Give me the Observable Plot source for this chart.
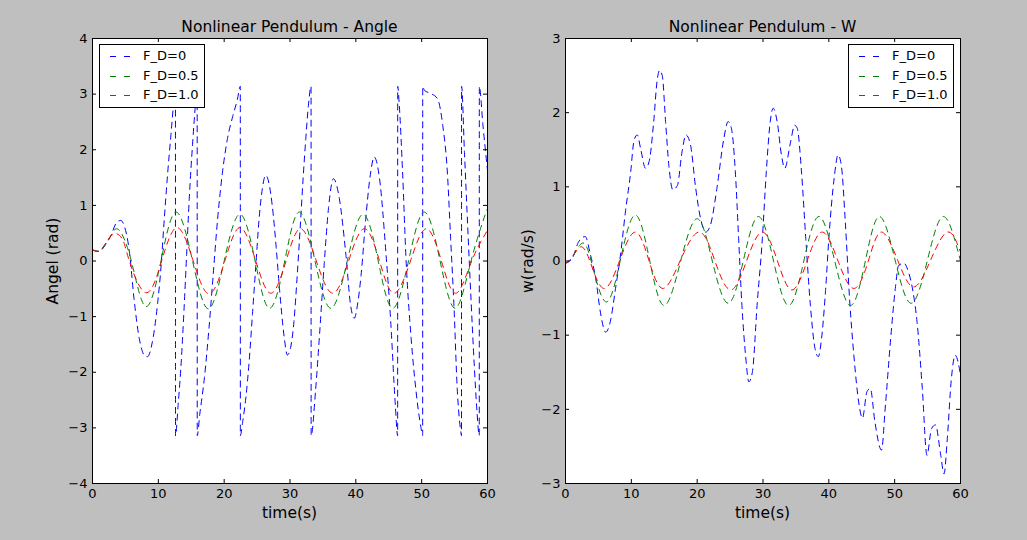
<!DOCTYPE html>
<html><head><meta charset="utf-8">
<script src="https://cdn.jsdelivr.net/npm/d3@7"></script>
<script src="https://cdn.jsdelivr.net/npm/@observablehq/plot@0.6"></script>
<style>
html,body{margin:0;padding:0;background:#bfbfbf;}
#fig{position:relative;width:1027px;height:540px;background:#bfbfbf;overflow:hidden;font-family:"DejaVu Sans",sans-serif;color:#000;}
.panel{position:absolute;top:0;}
.title{position:absolute;font-size:15.5px;line-height:18px;white-space:nowrap;transform:translateX(-50%);}
.xlabel{position:absolute;font-size:15.5px;line-height:18px;white-space:nowrap;transform:translateX(-50%);}
.ylabel{position:absolute;font-size:15.5px;line-height:18px;white-space:nowrap;transform:translate(-50%,-50%) rotate(-90deg);}
.legend{position:absolute;background:#fff;border:1px solid #000;box-sizing:border-box;width:106px;height:64px;}
.legend .row{position:absolute;left:0;height:18px;width:100%;}
.legend svg{position:absolute;left:9px;top:0;}
.legend span{position:absolute;left:43px;top:0;font-size:13px;line-height:18px;white-space:nowrap;}
</style>
</head><body>
<div id="fig"></div>
<script>
// ---------- data ----------
const xTicks = [0, 10, 20, 30, 40, 50, 60];
const angleTicks = [-4, -3, -2, -1, 0, 1, 2, 3, 4];
const wTicks = [-3, -2, -1, 0, 1, 2, 3];
const seriesNames = ["F_D=0", "F_D=0.5", "F_D=1.0"];
const seriesColors = ["#0000ff", "#008000", "#ff0000"];

// Angle, F_D=0 (wrapped to [-pi, pi])
const tAngle0 = [0,1.0,2.0,2.8,3.6,4.3,4.8,5.6,6.3,7.1,7.85,8.35,9.1,9.9,10.33,10.9,11.4,11.9,12.3,12.6,12.61,13.0,13.4,13.9,14.3,14.7,15.2,15.7,15.9,15.91,16.3,17.0,17.7,18.3,19.0,19.75,20.5,21.3,22.0,22.45,22.46,22.8,23.3,23.8,24.3,24.8,25.3,25.8,26.3,26.8,27.3,27.9,28.4,29.1,29.6,30.1,30.6,31.1,31.6,32.0,32.4,32.8,33.2,33.21,33.9,34.5,35.2,35.85,36.6,37.5,38.5,39.2,39.75,40.3,40.8,41.5,42.2,42.8,43.6,44.6,45.3,46.0,46.35,46.36,46.6,47.1,47.6,48.4,49.1,49.9,50.15,50.16,50.4,51.4,52.4,53.2,53.9,54.4,54.9,55.4,55.95,56.05,56.06,56.5,57.0,57.5,58.0,58.4,58.75,58.76,59.3,60.0];
const angle0 = [0.20,0.17,0.30,0.46,0.68,0.73,0.64,0.17,-0.67,-1.39,-1.69,-1.72,-1.45,-0.75,-0.22,0.75,1.55,2.25,2.80,3.14,-3.14,-2.60,-1.96,-0.88,0.12,1.13,2.10,2.90,3.14,-3.14,-2.75,-2.10,-1.20,-0.30,0.75,1.60,2.20,2.60,2.90,3.14,-3.14,-2.90,-2.45,-1.80,-0.95,-0.10,0.75,1.30,1.54,1.40,1.00,0.25,-0.49,-1.35,-1.69,-1.55,-1.09,-0.25,0.70,1.50,2.20,2.80,3.14,-3.14,-2.30,-1.30,-0.05,0.95,1.48,1.12,0.10,-0.79,-1.03,-0.75,-0.25,0.75,1.55,1.87,1.48,0.10,-1.09,-2.59,-3.14,3.14,2.80,1.60,0.10,-1.39,-2.29,-3.00,-3.14,3.14,3.07,3.01,2.92,2.44,1.60,0.40,-0.79,-2.29,-3.07,-3.14,3.14,1.95,0.60,-0.70,-1.90,-2.70,-3.14,3.14,2.45,1.63];

// Angle, F_D=0.5
const tAngle05 = [0,1.0,2.0,2.9,4.0,5.9,8.1,10.4,12.7,15.2,17.6,20.0,22.4,24.7,26.9,29.2,31.4,33.8,36.2,38.7,41.1,43.4,45.6,48.0,50.4,52.8,55.1,57.5,59.8,60];
const angle05 = [0.20,0.18,0.30,0.48,0.56,0.0,-0.82,0.0,0.88,0.0,-0.86,0.0,0.84,0.0,-0.85,0.0,0.88,0.0,-0.85,0.0,0.84,0.0,-0.85,0.0,0.88,0.0,-0.85,0.0,0.88,0.87];

// Angle, F_D=1.0
const tAngle10 = [0,1.0,2.0,3.3,4.6,5.6,8.1,10.5,12.85,15.3,17.7,20.1,22.4,24.8,27.1,29.4,31.6,34.0,36.5,38.9,41.3,43.6,45.8,48.3,50.7,53.0,55.2,57.6,60];
const angle10 = [0.20,0.18,0.32,0.49,0.38,0.0,-0.57,0.0,0.60,0.0,-0.59,0.0,0.60,0.0,-0.58,0.0,0.58,0.0,-0.58,0.0,0.58,0.0,-0.58,0.0,0.58,0.0,-0.58,0.0,0.55];

// W, F_D=0
const tW0 = [0,1.0,2.0,3.0,3.8,4.6,5.3,6.1,6.8,7.6,8.35,9.1,9.9,10.4,10.9,11.4,12.15,12.7,13.4,13.9,14.3,14.7,15.2,15.7,16.3,17.0,17.7,18.3,19.0,19.75,20.5,21.3,22.0,23.0,24.05,24.7,25.2,25.8,26.3,26.8,27.35,27.85,28.4,29.1,29.9,30.5,31.1,31.55,32.15,32.8,33.3,34.2,34.8,35.2,35.85,36.5,37.2,37.9,38.4,38.9,39.5,40.0,40.8,41.4,41.9,42.5,43.15,43.8,44.6,45.1,45.8,46.3,47.0,48.0,48.6,49.4,50.1,50.6,51.4,52.1,52.8,53.4,54.2,54.9,55.6,56.2,57.0,57.5,58.0,58.6,59.2,59.6,60];
const w0 = [-0.03,0.03,0.26,0.33,0.08,-0.24,-0.69,-0.96,-0.82,-0.37,0.08,0.66,1.20,1.62,1.70,1.52,1.25,1.34,1.88,2.42,2.57,2.50,1.88,1.29,0.96,1.02,1.47,1.70,1.56,1.00,0.58,0.39,0.48,0.98,1.65,1.88,1.79,1.20,0.30,-0.60,-1.27,-1.63,-1.49,-0.60,0.30,1.20,1.88,2.06,1.88,1.43,1.25,1.61,1.83,1.79,1.20,0.30,-0.60,-1.18,-1.29,-1.04,-0.40,0.30,1.11,1.43,1.29,0.53,-0.51,-1.27,-1.94,-2.12,-1.76,-1.72,-2.17,-2.55,-1.94,-1.04,-0.37,-0.06,-0.03,-0.15,-0.42,-0.82,-1.72,-2.62,-2.26,-2.21,-2.62,-2.87,-2.39,-1.60,-1.27,-1.35,-1.54];

// W, F_D=0.5
const tW05 = [0,1.0,2.5,3.9,6.1,8.3,10.6,12.8,15.0,17.5,20.0,22.3,24.7,27.0,29.3,31.6,33.9,36.2,38.5,40.9,43.3,45.55,47.7,50.1,52.5,54.95,57.4,60];
const w05 = [-0.03,0.05,0.24,0.0,-0.55,0.0,0.62,0.0,-0.60,0.0,0.57,0.0,-0.57,0.0,0.60,0.0,-0.60,0.0,0.60,0.0,-0.60,0.0,0.60,0.0,-0.57,0.0,0.60,0.0];

// W, F_D=1.0
const tW10 = [0,1.0,2.3,3.7,5.8,8.2,10.6,12.7,14.8,17.4,20.3,22.7,25.1,27.5,29.9,32.2,34.4,36.7,39.0,41.4,43.8,46.0,48.0,50.5,52.9,55.4,58.0,60];
const w10 = [-0.03,0.05,0.19,0.0,-0.37,0.0,0.39,0.0,-0.37,0.0,0.39,0.0,-0.39,0.0,0.39,0.0,-0.39,0.0,0.39,0.0,-0.37,0.0,0.39,0.0,-0.35,0.0,0.39,0.12];

// ---------- build ----------
const rows = (ts, vs) => ts.map((t, i) => ({t, v: vs[i]}));
const intFmt = d3.format("d");

function panel(series, yDomain, yTicks) {
  const W = 520, H = 540, mL = 92, mR = 33, mT = 38, mB = 57;
  const fw = W - mL - mR, fh = H - mT - mB, tk = 4;
  return Plot.plot({
    width: W, height: H,
    marginLeft: mL, marginRight: mR, marginTop: mT, marginBottom: mB,
    style: {background: "transparent", fontFamily: "DejaVu Sans, sans-serif", fontSize: "13px", color: "black", overflow: "visible"},
    x: {domain: [0, 60]},
    y: {domain: yDomain},
    marks: [
      Plot.frame({fill: "white", stroke: null}),
      ...series.map((s, i) => Plot.line(s.data, {
        x: "t", y: "v", stroke: seriesColors[i], strokeWidth: 1,
        strokeDasharray: "6,5", curve: s.curve, clip: true
      })),
      Plot.tickX(xTicks, {x: d => d, insetTop: fh - tk, stroke: "black"}),
      Plot.tickX(xTicks, {x: d => d, insetBottom: fh - tk, stroke: "black"}),
      Plot.tickY(yTicks, {y: d => d, insetRight: fw - tk, stroke: "black"}),
      Plot.tickY(yTicks, {y: d => d, insetLeft: fw - tk, stroke: "black"}),
      Plot.axisX(xTicks, {tickSize: 0, tickPadding: 5, label: null, fontSize: 13, tickFormat: intFmt}),
      Plot.axisY(yTicks, {tickSize: 0, tickPadding: 5, label: null, fontSize: 13, tickFormat: intFmt}),
      Plot.frame({stroke: "black", strokeWidth: 1})
    ]
  });
}

const fig = document.getElementById("fig");

function addPanel(left, chart, title, xlabel, ylabel, ylabelX) {
  const wrap = document.createElement("div");
  wrap.className = "panel";
  wrap.style.left = left + "px";
  wrap.appendChild(chart);
  fig.appendChild(wrap);
  const cx = left + 92 + (520 - 92 - 33) / 2;
  const t = document.createElement("div");
  t.className = "title"; t.textContent = title;
  t.style.left = cx + "px"; t.style.top = "18px";
  fig.appendChild(t);
  const xl = document.createElement("div");
  xl.className = "xlabel"; xl.textContent = xlabel;
  xl.style.left = cx + "px"; xl.style.top = "504px";
  fig.appendChild(xl);
  const yl = document.createElement("div");
  yl.className = "ylabel"; yl.textContent = ylabel;
  yl.style.left = ylabelX + "px"; yl.style.top = "261px";
  fig.appendChild(yl);
}

function addLegend(left, top) {
  const lg = document.createElement("div");
  lg.className = "legend";
  lg.style.left = left + "px"; lg.style.top = top + "px";
  const ys = [2, 22, 41];
  seriesNames.forEach((n, i) => {
    const r = document.createElement("div");
    r.className = "row"; r.style.top = ys[i] + "px";
    r.innerHTML = `<svg width="22" height="18"><line x1="0" y1="9.5" x2="22" y2="9.5" stroke="${seriesColors[i]}" stroke-width="1" stroke-dasharray="6,8" stroke-dashoffset="-1"/></svg><span>${n}</span>`;
    lg.appendChild(r);
  });
  fig.appendChild(lg);
}

const anglePanel = panel([
  {data: rows(tAngle0, angle0), curve: "monotone-x"},
  {data: rows(tAngle05, angle05), curve: "natural"},
  {data: rows(tAngle10, angle10), curve: "natural"}
], [-4, 4], angleTicks);

const wPanel = panel([
  {data: rows(tW0, w0), curve: "monotone-x"},
  {data: rows(tW05, w05), curve: "natural"},
  {data: rows(tW10, w10), curve: "natural"}
], [-3, 3], wTicks);

addPanel(0, anglePanel, "Nonlinear Pendulum - Angle", "time(s)", "Angel (rad)", 53);
addPanel(473, wPanel, "Nonlinear Pendulum - W", "time(s)", "w(rad/s)", 528);
addLegend(99, 44);
addLegend(848, 44);
</script>
</body></html>
